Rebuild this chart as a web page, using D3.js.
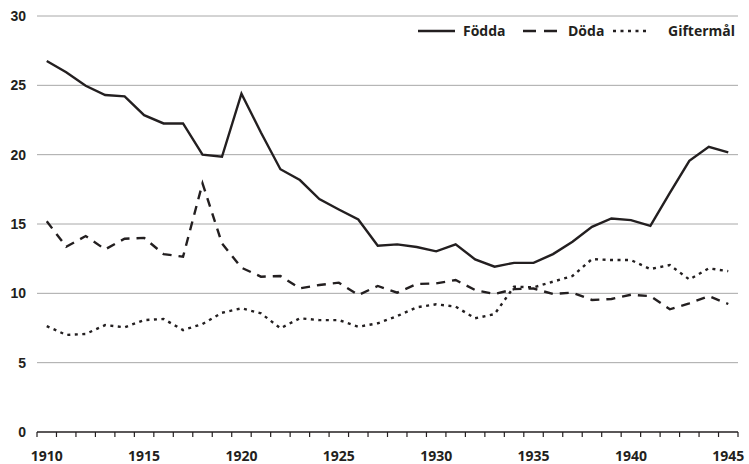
<!DOCTYPE html>
<html>
<head>
<meta charset="utf-8">
<script src="https://cdn.jsdelivr.net/npm/d3@7"></script>
<style>
  body { margin: 0; background: #fff; }
  svg { display: block; font-family: "Open Sans", "Noto Sans", sans-serif; font-weight: bold; }
  .grid line { stroke: #a8a8a8; stroke-width: 1; }
  .axis text { font-size: 14px; fill: #231f20; }
  .line { fill: none; stroke: #231f20; stroke-width: 2.4; }
</style>
</head>
<body>
<script>
let years = d3.range(1910, 1946);

let fodda = [26.75, 25.95, 24.97, 24.3, 24.2, 22.85, 22.25, 22.25, 20.0, 19.85,
             24.4, 21.6, 18.95, 18.17, 16.8, 16.05, 15.33, 13.43, 13.53, 13.34,
             13.03, 13.53, 12.45, 11.92, 12.2, 12.2, 12.83, 13.72, 14.8, 15.4,
             15.28, 14.87, 17.25, 19.56, 20.57, 20.17];

let doda = [15.2, 13.36, 14.13, 13.17, 13.94, 14.0, 12.83, 12.64, 17.93, 13.6,
            11.85, 11.2, 11.25, 10.36, 10.6, 10.77, 9.88, 10.53, 10.05, 10.67,
            10.72, 10.96, 10.24, 9.95, 10.3, 10.35, 9.95, 10.05, 9.52, 9.59,
            9.9, 9.8, 8.85, 9.28, 9.8, 9.23];

let giftermal = [7.64, 7.0, 7.07, 7.71, 7.55, 8.07, 8.15, 7.35, 7.79, 8.6,
                 8.92, 8.56, 7.48, 8.2, 8.07, 8.07, 7.59, 7.84, 8.36, 8.99,
                 9.21, 9.04, 8.2, 8.5, 10.48, 10.43, 10.84, 11.25, 12.47, 12.4,
                 12.4, 11.75, 12.04, 11.0, 11.8, 11.6];

let yTicks = [0, 5, 10, 15, 20, 25, 30];
let xLabels = [1910, 1915, 1920, 1925, 1930, 1935, 1940, 1945];

let seriesNames = ['Födda', 'Döda', 'Giftermål'];
let seriesDash = [null, '9,7', '3,4.5'];

let width = 749, height = 464,
    margins = {top: 16, right: 11, bottom: 32, left: 37};

let svg = d3.select('body').append('svg')
    .attr('width', width)
    .attr('height', height);

let xScale = d3.scaleBand()
    .domain(years)
    .range([margins.left, width - margins.right]);

let yScale = d3.scaleLinear()
    .domain([0, 30])
    .range([height - margins.bottom, margins.top]);

// grid
svg.append('g').classed('grid', true)
    .selectAll('line')
    .data(yTicks.filter(d => d > 0))
    .enter().append('line')
    .attr('x1', margins.left)
    .attr('x2', width - margins.right)
    .attr('y1', d => yScale(d))
    .attr('y2', d => yScale(d));

// y axis labels
let yAxis = svg.append('g').classed('axis', true)
    .attr('transform', `translate(${margins.left},0)`)
    .call(d3.axisLeft(yScale).tickValues(yTicks).tickSize(0).tickPadding(11));
yAxis.select('.domain').remove();

// x axis: ticks at band edges, labels at band centres
let xAxis = svg.append('g').classed('axis', true)
    .attr('transform', `translate(0,${yScale(0)})`);
xAxis.append('line')
    .attr('x1', margins.left)
    .attr('x2', width - margins.right)
    .attr('stroke', '#231f20')
    .attr('stroke-width', 1.5);
xAxis.selectAll('line.tick')
    .data(years.concat([1946]))
    .enter().append('line')
    .classed('tick', true)
    .attr('x1', d => d === 1946 ? xScale.range()[1] : xScale(d))
    .attr('x2', d => d === 1946 ? xScale.range()[1] : xScale(d))
    .attr('y1', 0)
    .attr('y2', 5)
    .attr('stroke', '#231f20')
    .attr('stroke-width', 1.2);
xAxis.selectAll('text')
    .data(xLabels)
    .enter().append('text')
    .attr('x', d => xScale(d) + xScale.bandwidth() / 2)
    .attr('y', 29)
    .attr('text-anchor', 'middle')
    .text(d => d);

// lines
let line = d3.line()
    .x((d, i) => xScale(years[i]) + xScale.bandwidth() / 2)
    .y(d => yScale(d));

svg.selectAll('path.line')
    .data([fodda, doda, giftermal])
    .enter().append('path')
    .classed('line', true)
    .attr('stroke-dasharray', (d, i) => seriesDash[i])
    .attr('d', line);

// legend
let legendX = [418, 523, 613];
let legend = svg.append('g').classed('axis', true);
seriesNames.forEach((name, i) => {
    legend.append('line')
        .attr('x1', legendX[i])
        .attr('x2', legendX[i] + (i === 0 ? 37 : 35))
        .attr('y1', 31)
        .attr('y2', 31)
        .attr('stroke', '#231f20')
        .attr('stroke-width', 2.4)
        .attr('stroke-dasharray', i === 1 ? '13,8' : seriesDash[i]);
    legend.append('text')
        .attr('x', legendX[i] + (i === 0 ? 45 : (i === 1 ? 45 : 55)))
        .attr('y', 36)
        .text(name);
});
</script>
</body>
</html>
